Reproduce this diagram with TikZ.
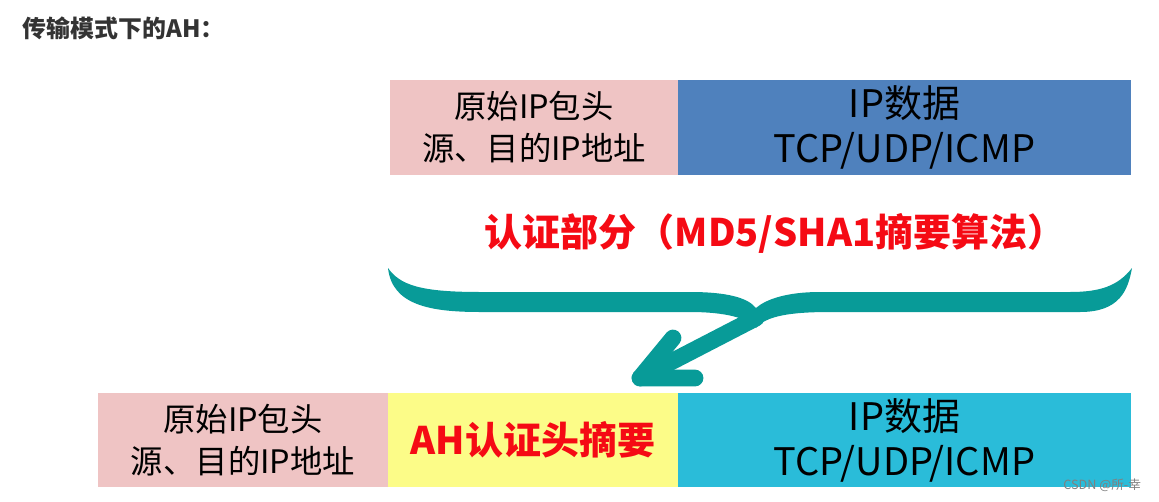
\documentclass[tikz,border=0pt]{standalone}
\usepackage{fontspec}
\setmainfont{Noto Sans CJK SC}
\usepackage{xcolor}
\usepackage{tikz}
\definecolor{hdrpink}{RGB}{239, 196, 196}
\definecolor{datablue}{RGB}{79, 129, 189}
\definecolor{ahyellow}{RGB}{252, 252, 136}
\definecolor{datacyan}{RGB}{42, 188, 217}
\definecolor{bracegreen}{RGB}{8, 155, 152}
\definecolor{textred}{RGB}{245, 10, 20}
\definecolor{titlegray}{RGB}{51, 51, 51}

\begin{document}
\begin{tikzpicture}[
        x=0.025cm, y=-0.025cm,
        cell/.style={rectangle, inner sep=0pt, minimum height=2.36cm, align=center, text=black},
        hdrcell/.style={cell, fill=hdrpink, font=\fontsize{23}{30}\selectfont},
        datacell/.style={cell, font=\fontsize{27}{32}\selectfont},
        redtext/.style={text=textred, font=\fontsize{27}{32}\selectfont\bfseries}
    ]
    \useasboundingbox (0,0) rectangle (1159,501);

    % Title
    \node[anchor=west, text=titlegray, font=\fontsize{17}{19}\selectfont\bfseries] (title) at (18,28) {传输模式下的AH：};

    % Original packet
    \node[hdrcell, minimum width=7.2cm] (oldhdr) at (534,127.5) {原始IP包头\\源、目的IP地址};
    \node[datacell, fill=datablue, minimum width=11.325cm] (olddata) at (904.5,127.5) {IP数据\\TCP/UDP/ICMP};

    % Authenticated part
    \node[redtext] (authpart) at (775,233) {认证部分（MD5/SHA1摘要算法）};

    % Brace with arrow
    \fill[bracegreen] (388,268) .. controls (392,305) and (430,312) .. (480,312) -- (690,312)
        .. controls (725,312) and (748,318) .. (756,328)
        .. controls (766,316) and (790,312) .. (830,312) -- (1080,312)
        .. controls (1120,312) and (1128,290) .. (1132,268)
        .. controls (1118,286) and (1100,292) .. (1070,292) -- (820,292)
        .. controls (785,292) and (765,300) .. (756,308)
        .. controls (748,298) and (728,292) .. (690,292) -- (480,292)
        .. controls (420,292) and (400,285) .. (388,268) -- cycle;
    \coordinate (bracetip) at (756,318);
    \coordinate (arrowtip) at (640,378);
    \draw[bracegreen, line width=0.42cm, line cap=round] (bracetip) -- (arrowtip);
    \draw[bracegreen, line width=0.42cm, line cap=round, line join=round] (673,338) -- (arrowtip) -- (695,378);

    % AH packet
    \node[hdrcell, minimum width=7.25cm] (newhdr) at (243,440) {原始IP包头\\源、目的IP地址};
    \node[cell, fill=ahyellow, minimum width=7.25cm, redtext] (ahdigest) at (533,440) {AH认证头摘要};
    \node[datacell, fill=datacyan, minimum width=11.325cm] (newdata) at (904.5,440) {IP数据\\TCP/UDP/ICMP};

    % Source mark
    \node[anchor=east, text=gray, font=\fontsize{9}{10}\selectfont] (mark) at (1146,485) {CSDN @所-幸};
\end{tikzpicture}
\end{document}
